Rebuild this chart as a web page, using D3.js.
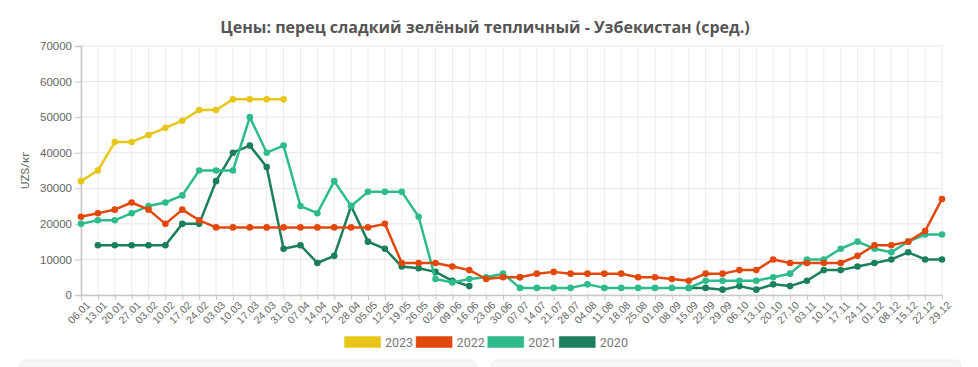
<!DOCTYPE html>
<html>
<head>
<meta charset="utf-8">
<script src="https://cdn.jsdelivr.net/npm/d3@7"></script>
<style>
  body { margin: 0; background: #fff; }
  svg { display: block; font-family: Roboto, "Open Sans", sans-serif; }
</style>
</head>
<body>
<div id="chart"></div>
<script>
// weeks (dd.mm)
var weeks = ["06.01","13.01","20.01","27.01","03.02","10.02","17.02","24.02","03.03","10.03",
  "17.03","24.03","31.03","07.04","14.04","21.04","28.04","05.05","12.05","19.05",
  "26.05","02.06","09.06","16.06","23.06","30.06","07.07","14.07","21.07","28.07",
  "04.08","11.08","18.08","25.08","01.09","08.09","15.09","22.09","29.09","06.10",
  "13.10","20.10","27.10","03.11","10.11","17.11","24.11","01.12","08.12","15.12",
  "22.12","29.12"];

var y2023 = [32000,35000,43000,43000,45000,47000,49000,52000,52000,55000,55000,55000,55000,
  null,null,null,null,null,null,null,null,null,null,null,null,null,null,null,null,null,
  null,null,null,null,null,null,null,null,null,null,null,null,null,null,null,null,null,
  null,null,null,null,null];

var y2022 = [22000,23000,24000,26000,24000,20000,24000,21000,19000,19000,19000,19000,19000,
  19000,19000,19000,19000,19000,20000,9000,9000,9000,8000,7000,4500,5000,5000,6000,6500,
  6000,6000,6000,6000,5000,5000,4500,4000,6000,6000,7000,7000,10000,9000,9000,9000,9000,
  11000,14000,14000,15000,18000,27000];

var y2021 = [20000,21000,21000,23000,25000,26000,28000,35000,35000,35000,50000,40000,42000,
  25000,23000,32000,25000,29000,29000,29000,22000,4500,3500,4500,5000,6000,2000,2000,2000,
  2000,3000,2000,2000,2000,2000,2000,2000,4000,4000,4000,4000,5000,6000,10000,10000,13000,
  15000,13000,12000,15000,17000,17000];

var y2020 = [null,14000,14000,14000,14000,14000,20000,20000,32000,40000,42000,36000,13000,
  14000,9000,11000,25000,15000,13000,8000,7500,6500,4000,2500,null,null,5000,null,null,
  null,null,null,null,null,null,null,2000,2000,1500,2500,1500,3000,2500,4000,7000,7000,
  8000,9000,10000,12000,10000,10000];

var yTicks = [0,10000,20000,30000,40000,50000,60000,70000];

var series = [
  { name: "2023", color: "#e8c619", values: y2023 },
  { name: "2022", color: "#e2470c", values: y2022 },
  { name: "2021", color: "#2dbb8b", values: y2021 },
  { name: "2020", color: "#1a7f5a", values: y2020 }
];

var width = 978, height = 367;
var margin = { top: 46, right: 36, bottom: 72, left: 81 };

var svg = d3.select("#chart").append("svg")
  .attr("width", width)
  .attr("height", height);

// the two pale panels peeking in at the bottom
svg.append("rect").attr("x", 20).attr("y", 360).attr("width", 456).attr("height", 20)
  .attr("rx", 6).attr("fill", "#f6f6f6").attr("stroke", "#ececec");
svg.append("rect").attr("x", 491).attr("y", 360).attr("width", 470).attr("height", 20)
  .attr("rx", 6).attr("fill", "#f6f6f6").attr("stroke", "#ececec");

svg.append("text")
  .attr("x", 485).attr("y", 33)
  .attr("text-anchor", "middle")
  .style("font-family", "'Open Sans', sans-serif")
  .style("font-weight", "bold")
  .style("font-size", "16px")
  .style("fill", "#555")
  .text("Цены: перец сладкий зелёный тепличный - Узбекистан (сред.)");

var x = d3.scalePoint()
  .domain(weeks)
  .range([margin.left, width - margin.right]);

var y = d3.scaleLinear()
  .domain([0, 70000])
  .range([height - margin.bottom, margin.top]);

// grid
svg.append("g").selectAll("line.hg")
  .data(yTicks).enter()
  .append("line")
  .attr("x1", margin.left).attr("x2", width - margin.right)
  .attr("y1", function(d){ return y(d); }).attr("y2", function(d){ return y(d); })
  .attr("stroke", "#e6e6e6");

svg.append("g").selectAll("line.vg")
  .data(weeks).enter()
  .append("line")
  .attr("x1", function(d){ return x(d); }).attr("x2", function(d){ return x(d); })
  .attr("y1", margin.top).attr("y2", height - margin.bottom)
  .attr("stroke", "#ececec");

// y axis
var yAxis = svg.append("g")
  .attr("transform", "translate(" + margin.left + ",0)")
  .call(d3.axisLeft(y).tickValues(yTicks).tickSize(6).tickPadding(3).tickFormat(d3.format("d")));
yAxis.select(".domain").attr("stroke", "#c8c8c8").attr("stroke-width", 1.5);
yAxis.selectAll(".tick line").attr("stroke", "#c8c8c8");
yAxis.selectAll("text").style("font-size", "11.5px").style("fill", "#666");

// x axis
var xAxis = svg.append("g")
  .attr("transform", "translate(0," + (height - margin.bottom) + ")")
  .call(d3.axisBottom(x).tickSize(5).tickSizeOuter(0));
xAxis.select(".domain").attr("stroke", "#c8c8c8").attr("stroke-width", 1.5);
xAxis.selectAll(".tick line").attr("stroke", "#c8c8c8");
xAxis.selectAll("text")
  .style("font-size", "10.5px")
  .style("fill", "#666")
  .attr("text-anchor", "end")
  .attr("dx", "-0.1em")
  .attr("dy", "0.6em")
  .attr("transform", "rotate(-45)");

svg.append("text")
  .attr("transform", "translate(29," + ((margin.top + height - margin.bottom) / 2) + ") rotate(-90)")
  .attr("text-anchor", "middle")
  .style("font-size", "11.5px")
  .style("fill", "#666")
  .text("UZS/кг");

var line = d3.line()
  .defined(function(d){ return d != null; })
  .x(function(d, i){ return x(weeks[i]); })
  .y(function(d){ return y(d); });

// draw oldest first so 2023 sits on top
var drawOrder = series.slice().reverse();
drawOrder.forEach(function(s) {
  var g = svg.append("g");
  g.append("path")
    .datum(s.values)
    .attr("fill", "none")
    .attr("stroke", s.color)
    .attr("stroke-width", 2.5)
    .attr("stroke-linejoin", "round")
    .attr("d", line);
  g.selectAll("circle")
    .data(s.values.map(function(v, i){ return { v: v, i: i }; })
      .filter(function(d){ return d.v != null; }))
    .enter().append("circle")
    .attr("cx", function(d){ return x(weeks[d.i]); })
    .attr("cy", function(d){ return y(d.v); })
    .attr("r", 3.3)
    .attr("fill", s.color);
});

// legend
var legend = svg.append("g").selectAll("g")
  .data(series).enter()
  .append("g")
  .attr("transform", function(d, i){ return "translate(" + (344 + i * 71.6) + ",336)"; });
legend.append("rect")
  .attr("width", 37).attr("height", 12)
  .attr("fill", function(d){ return d.color; })
  .attr("stroke", "#ffffff").attr("stroke-opacity", 0.5);
legend.append("text")
  .attr("x", 41).attr("y", 10.5)
  .style("font-size", "12.5px")
  .style("fill", "#777")
  .text(function(d){ return d.name; });
</script>
</body>
</html>
